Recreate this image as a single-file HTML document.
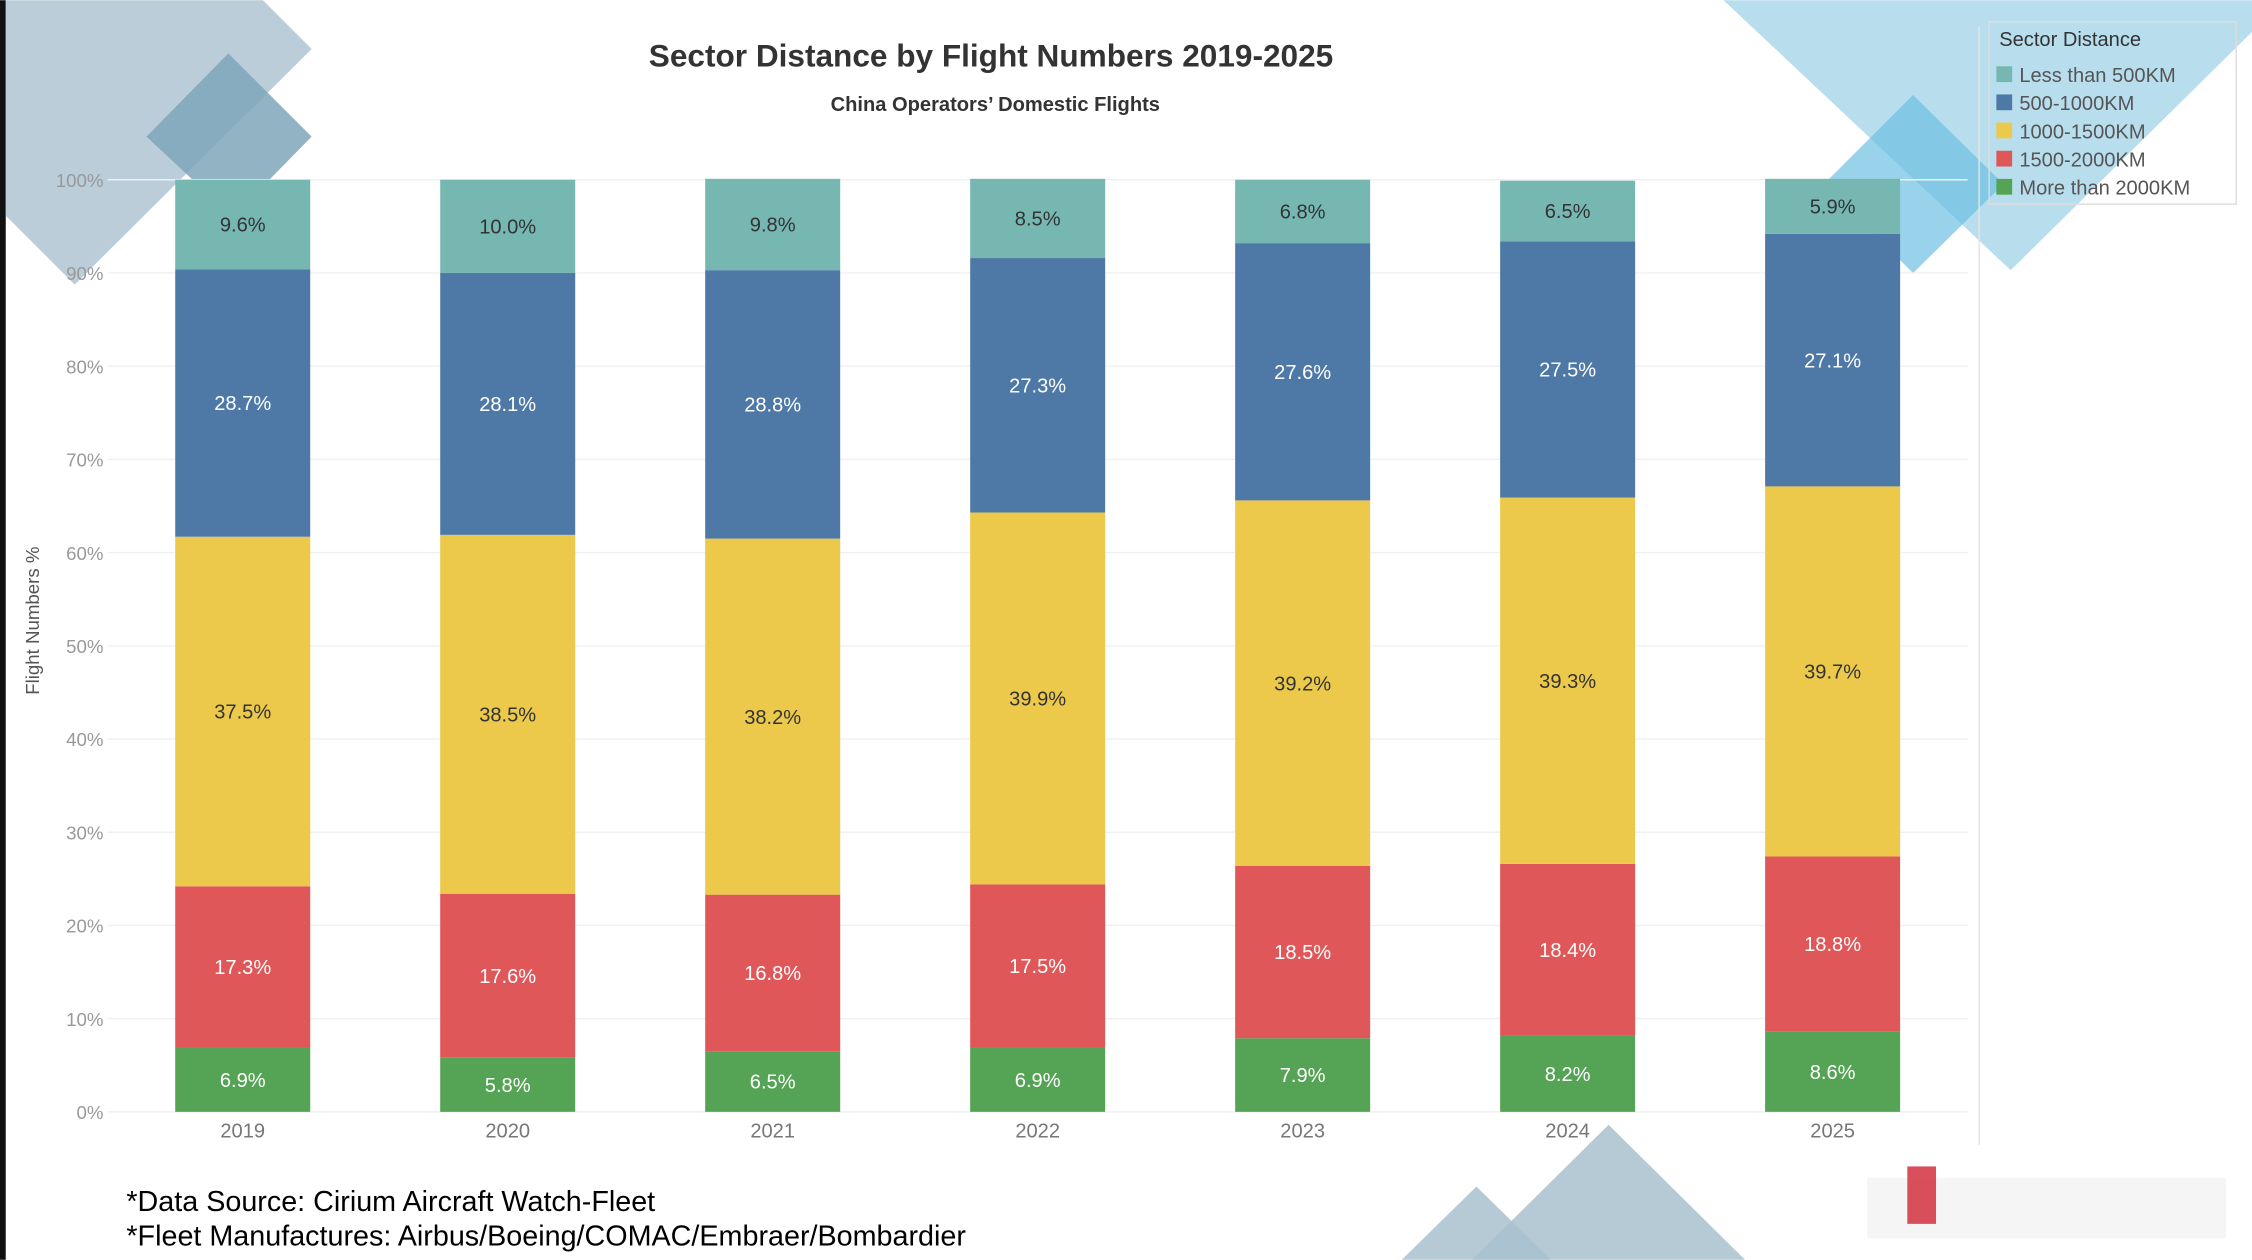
<!DOCTYPE html>
<html><head><meta charset="utf-8"><style>
html,body{margin:0;padding:0;background:#fff;}
svg{display:block;font-family:"Liberation Sans",sans-serif;}
</style></head><body>
<svg id="c" width="2252" height="1260" viewBox="0 0 1568 877">
<rect x="0" y="0" width="1568" height="877" fill="#fff"/>
<rect x="0" y="0" width="4" height="877" fill="#111"/>
<g>
<polygon points="4,0 183,0 217,34 52,198 4,150" fill="#a9c1cf" opacity="0.8"/>
<polygon points="159,37 217,95 162,151 102,95" fill="#7ea6ba" opacity="0.85"/>
<polygon points="1200,0 1568,0 1568,22 1400,188" fill="#a6d6ea" opacity="0.8"/>
<polygon points="1332,66 1395,128 1332,190 1270,128" fill="#6cc1e3" opacity="0.7"/>
<polygon points="1120,783 1215,877 1025,877" fill="#a9c1cf" opacity="0.85"/>
<polygon points="1028,826 1080,877 976,877" fill="#a9c1cf" opacity="0.85"/>
</g>
<text x="690" y="46" text-anchor="middle" font-size="22" font-weight="bold" fill="#333">Sector Distance by Flight Numbers 2019-2025</text>
<text x="693" y="77" text-anchor="middle" font-size="14" font-weight="bold" fill="#333">China Operators’ Domestic Flights</text>
<text transform="translate(27,432) rotate(-90)" text-anchor="middle" font-size="13" fill="#555">Flight Numbers %</text>
<line x1="1378" y1="18" x2="1378" y2="797" stroke="#e4e4e4"/>
<g id="grid"></g><g id="bars"></g><g id="xl"></g>
<g>
<rect x="1385" y="15" width="172" height="127" fill="none" stroke="#ddd"/>
<text x="1392" y="32" font-size="14" fill="#333">Sector Distance</text>
<g id="leg"></g>
</g>
<text x="88" y="843" font-size="20" fill="#000">*Data Source: Cirium Aircraft Watch-Fleet</text>
<text x="88" y="867" font-size="20" fill="#000">*Fleet Manufactures: Airbus/Boeing/COMAC/Embraer/Bombardier</text>
<rect x="1300" y="820" width="250" height="42" fill="#eee" opacity="0.6"/>
<rect x="1328" y="812" width="20" height="40" fill="#d4303f" opacity="0.85"/>
</svg>
<script>
const years=["2019","2020","2021","2022","2023","2024","2025"];
const seriesNames=["More than 2000KM","1500-2000KM","1000-1500KM","500-1000KM","Less than 500KM"];
const more2000=[6.9,5.8,6.5,6.9,7.9,8.2,8.6];
const s1500=[17.3,17.6,16.8,17.5,18.5,18.4,18.8];
const s1000=[37.5,38.5,38.2,39.9,39.2,39.3,39.7];
const s500=[28.7,28.1,28.8,27.3,27.6,27.5,27.1];
const less500=[9.6,10.0,9.8,8.5,6.8,6.5,5.9];
const yTicks=[0,10,20,30,40,50,60,70,80,90,100];
const colors=["#55a354","#e05759","#ecc94b","#4e79a7","#76b7b2"];
const textCols=["#fff","#fff","#333","#fff","#333"];
const ns="http://www.w3.org/2000/svg";
const y=v=>774-v*6.49;
const x=i=>169+i*184.5;
function mk(t,a,p){const e=document.createElementNS(ns,t);for(const k in a)e.setAttribute(k,a[k]);p.appendChild(e);return e;}
const grid=document.getElementById('grid');
yTicks.forEach(t=>{
 const l=mk('line',{x1:75,x2:1370,y1:y(t),y2:y(t),stroke:'#f0f0f0'},grid);
 
 
 const tx=mk('text',{x:72,y:y(t)+5,'text-anchor':'end','font-size':13,fill:'#999'},grid);
 tx.textContent=t+'%';
 
 
});
const series=[more2000,s1500,s1000,s500,less500];
const bars=document.getElementById('bars');
years.forEach((yr,i)=>{
 let acc=0;
 series.forEach((s,j)=>{
  const v=s[i];
  const r=mk('rect',{x:x(i)-47,width:94,y:y(acc+v),height:y(acc)-y(acc+v),fill:colors[j]},bars);
  
  
  const t=mk('text',{x:x(i),y:(y(acc)+y(acc+v))/2+5,'text-anchor':'middle','font-size':14,fill:textCols[j]},bars);
  t.textContent=v.toFixed(1)+'%';
  
  
  acc+=v;
 });
 const xl=mk('text',{x:x(i),y:792,'text-anchor':'middle','font-size':14,fill:'#777'},document.getElementById('xl'));
 xl.textContent=yr;
 
 
});
const leg=document.getElementById('leg');
[4,3,2,1,0].forEach((j,k)=>{
 const r=mk('rect',{x:1390,y:46+k*19.6,width:11,height:11,fill:colors[j]},leg);
 
 
 const t=mk('text',{x:1406,y:57+k*19.6,'font-size':14,fill:'#555'},leg);
 t.textContent=seriesNames[j];
 
 
});
</script>
</body></html>
